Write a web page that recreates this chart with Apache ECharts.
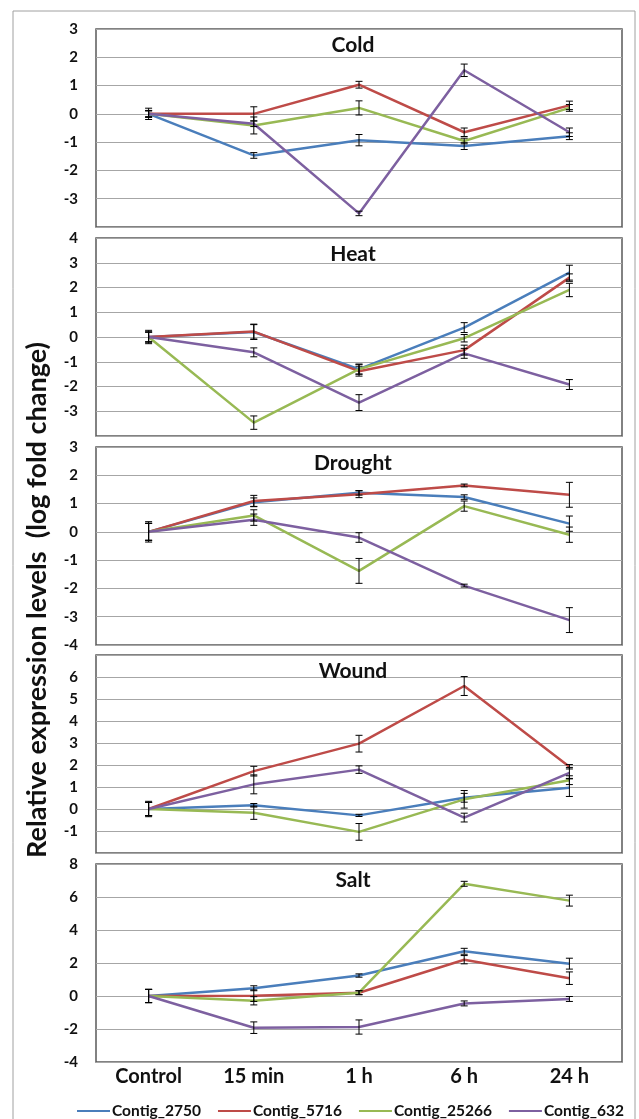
<!DOCTYPE html>
<html>
<head>
<meta charset="utf-8">
<script src="https://cdn.jsdelivr.net/npm/echarts@6/dist/echarts.min.js"></script>
<style>
  html, body { margin: 0; padding: 0; background: #fff; }
  #chart { width: 639px; height: 1119px; }
</style>
</head>
<body>
<div id="chart"></div>
<script>
// categories and series
var categories = ['Control', '15 min', '1 h', '6 h', '24 h'];
var contigs = ['Contig_2750', 'Contig_5716', 'Contig_25266', 'Contig_632'];
var colors = ['#4a7ebb', '#be4b48', '#98b954', '#7d60a0'];
var panels = ['Cold', 'Heat', 'Drought', 'Wound', 'Salt'];

// axis ranges per panel
var yMin = [-4, -4, -4, -2, -4];
var yMax = [3, 4, 3, 7, 8];
var yStep = [1, 1, 1, 1, 2];

// one row per contig (2750, 5716, 25266, 632)
var coldValues = [
    [0, -1.47, -0.93, -1.14, -0.79],
    [0, 0, 1.03, -0.65, 0.3],
    [0, -0.41, 0.21, -0.96, 0.21],
    [0, -0.35, -3.52, 1.54, -0.65]
];
var coldErrors = [
    [0.2, 0.1, 0.2, 0.12, 0.12],
    [0.12, 0.25, 0.12, 0.15, 0.15],
    [0.1, 0.3, 0.25, 0.1, 0.12],
    [0.12, 0.1, 0.08, 0.22, 0.15]
];

var heatValues = [
    [0, 0.2, -1.3, 0.38, 2.6],
    [0, 0.22, -1.38, -0.53, 2.4],
    [0, -3.46, -1.3, -0.05, 1.9],
    [0, -0.62, -2.65, -0.66, -1.92]
];
var heatErrors = [
    [0.27, 0.3, 0.2, 0.2, 0.3],
    [0.2, 0.3, 0.2, 0.2, 0.15],
    [0.2, 0.27, 0.2, 0.15, 0.27],
    [0.2, 0.18, 0.32, 0.2, 0.2]
];

var droughtValues = [
    [0, 1.05, 1.38, 1.23, 0.29],
    [0, 1.09, 1.33, 1.64, 1.31],
    [0, 0.58, -1.38, 0.91, -0.1],
    [0, 0.43, -0.2, -1.9, -3.12]
];
var droughtErrors = [
    [0.36, 0.15, 0.08, 0.08, 0.27],
    [0.3, 0.2, 0.12, 0.05, 0.44],
    [0.3, 0.2, 0.44, 0.18, 0.27],
    [0.3, 0.2, 0.17, 0.05, 0.44]
];

var woundValues = [
    [0, 0.17, -0.29, 0.51, 0.97],
    [0, 1.72, 2.97, 5.59, 1.92],
    [0, -0.17, -1.04, 0.44, 1.31],
    [0, 1.12, 1.79, -0.39, 1.64]
];
var woundErrors = [
    [0.35, 0.08, 0.05, 0.2, 0.4],
    [0.3, 0.22, 0.38, 0.43, 0.1],
    [0.3, 0.3, 0.38, 0.4, 0.2],
    [0.3, 0.43, 0.17, 0.2, 0.25]
];

var saltValues = [
    [0, 0.47, 1.24, 2.71, 1.96],
    [0, 0.02, 0.2, 2.2, 1.08],
    [0, -0.29, 0.2, 6.8, 5.78],
    [0, -1.92, -1.88, -0.45, -0.18]
];
var saltErrors = [
    [0.4, 0.15, 0.1, 0.18, 0.33],
    [0.4, 0.35, 0.12, 0.25, 0.38],
    [0.4, 0.25, 0.12, 0.15, 0.33],
    [0.4, 0.35, 0.43, 0.15, 0.15]
];

var allValues = [coldValues, heatValues, droughtValues, woundValues, saltValues];
var allErrors = [coldErrors, heatErrors, droughtErrors, woundErrors, saltErrors];

var font = 'Lato';
var gridTops = [29, 238, 447, 655, 864];
var gridHeight = 198;
var plotLeft = 96, plotRight = 17;

// which end labels each panel shows [min, max]
var showEnds = [[false, true], [false, true], [true, true], [false, false], [true, true]];

var grids = [], xAxes = [], yAxes = [], series = [], graphics = [];

function errorBars(params, api) {
    var top = api.coord([api.value(0), api.value(2)]);
    var bot = api.coord([api.value(0), api.value(1)]);
    var w = 3.5;
    var style = { stroke: '#000', lineWidth: 1 };
    return {
        type: 'group',
        children: [
            { type: 'line', shape: { x1: top[0], y1: top[1], x2: bot[0], y2: bot[1] }, style: style },
            { type: 'line', shape: { x1: top[0] - w, y1: top[1], x2: top[0] + w, y2: top[1] }, style: style },
            { type: 'line', shape: { x1: bot[0] - w, y1: bot[1], x2: bot[0] + w, y2: bot[1] }, style: style }
        ]
    };
}

panels.forEach(function (name, p) {
    grids.push({
        left: plotLeft, right: plotRight, top: gridTops[p], height: gridHeight,
        show: true, borderColor: '#595959', borderWidth: 1.5, backgroundColor: '#fff'
    });
    xAxes.push({
        type: 'category', gridIndex: p, data: categories, boundaryGap: true,
        axisLine: { show: false }, axisTick: { show: false }, splitLine: { show: false },
        axisLabel: {
            show: p === panels.length - 1, margin: 5,
            fontFamily: font, fontWeight: 'bold', fontSize: 20, color: '#111'
        }
    });
    yAxes.push({
        type: 'value', gridIndex: p, min: yMin[p], max: yMax[p], interval: yStep[p],
        axisLine: { show: false }, axisTick: { show: false },
        splitLine: { lineStyle: { color: '#a6a6a6', width: 1 } },
        axisLabel: {
            margin: 18, fontFamily: font, fontWeight: 'bold', fontSize: 15, color: '#111',
            showMinLabel: showEnds[p][0], showMaxLabel: showEnds[p][1]
        }
    });
    graphics.push({
        type: 'text', x: 353, y: gridTops[p] + 16,
        style: {
            text: name, font: 'bold 21px ' + font, fill: '#111',
            textAlign: 'center', textVerticalAlign: 'middle'
        },
        z: 10
    });
    contigs.forEach(function (c, i) {
        series.push({
            name: c, type: 'line', xAxisIndex: p, yAxisIndex: p,
            data: allValues[p][i], symbol: 'none', z: 2 + i * 0.1,
            lineStyle: { color: colors[i], width: 2.5 },
            itemStyle: { color: colors[i] }
        });
    });
    contigs.forEach(function (c, i) {
        var bars = allValues[p][i].map(function (v, k) {
            var e = allErrors[p][i][k];
            return [k, v - e, v + e];
        });
        series.push({
            type: 'custom', xAxisIndex: p, yAxisIndex: p, z: 5,
            renderItem: errorBars, data: bars, silent: true
        });
    });
});

// outer frame and y axis title
graphics.push({
    type: 'rect', shape: { x: 13, y: 11, width: 622, height: 1120 },
    style: { fill: 'none', stroke: '#a0a0a0', lineWidth: 1 }, z: -1, silent: true
});
graphics.push({
    type: 'text', x: 37, y: 600, rotation: Math.PI / 2,
    style: {
        text: 'Relative expression levels  (log fold change)',
        font: 'bold 27px ' + font, fill: '#111',
        textAlign: 'center', textVerticalAlign: 'middle'
    }
});

var chart = echarts.init(document.getElementById('chart'));
chart.setOption({
    animation: false,
    backgroundColor: '#fff',
    grid: grids,
    xAxis: xAxes,
    yAxis: yAxes,
    legend: {
        data: contigs, left: 72, top: 1098, icon: 'rect',
        itemWidth: 33, itemHeight: 2, itemGap: 17,
        textStyle: { fontFamily: font, fontWeight: 'bold', fontSize: 15.5, color: '#111', padding: [0, 0, 0, -3] }
    },
    series: series,
    graphic: graphics
});
</script>
</body>
</html>
